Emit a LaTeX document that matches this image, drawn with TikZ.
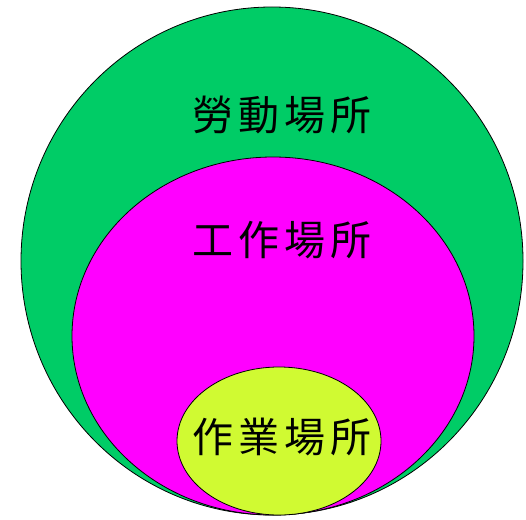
\documentclass[tikz,border=0pt]{standalone}
\usepackage{fontspec}
\newfontfamily\cjk[LetterSpace=12]{Noto Sans CJK TC}
\definecolor{areagreen}{RGB}{0,204,102}
\definecolor{areapink}{RGB}{255,0,255}
\definecolor{arealime}{RGB}{208,250,50}
\begin{document}
\begin{tikzpicture}[x=1pt, y=-1pt,
    area/.style={draw=black, line width=0.8pt},
    lbl/.style={font=\cjk\fontsize{41}{42}\selectfont, inner sep=0pt}]
  \useasboundingbox (0,0) rectangle (526,519);
  % nested areas
  \filldraw[area, fill=areagreen] (272,261) ellipse [x radius=251, y radius=254];
  \filldraw[area, fill=areapink] (273,336) ellipse [x radius=201, y radius=179];
  \filldraw[area, fill=arealime] (279,441) ellipse [x radius=102, y radius=74];
  % labels
  \node[lbl] (labour) at (282,115) {勞動場所};
  \node[lbl] (work) at (282,240) {工作場所};
  \node[lbl] (task) at (282,437) {作業場所};
\end{tikzpicture}
\end{document}
